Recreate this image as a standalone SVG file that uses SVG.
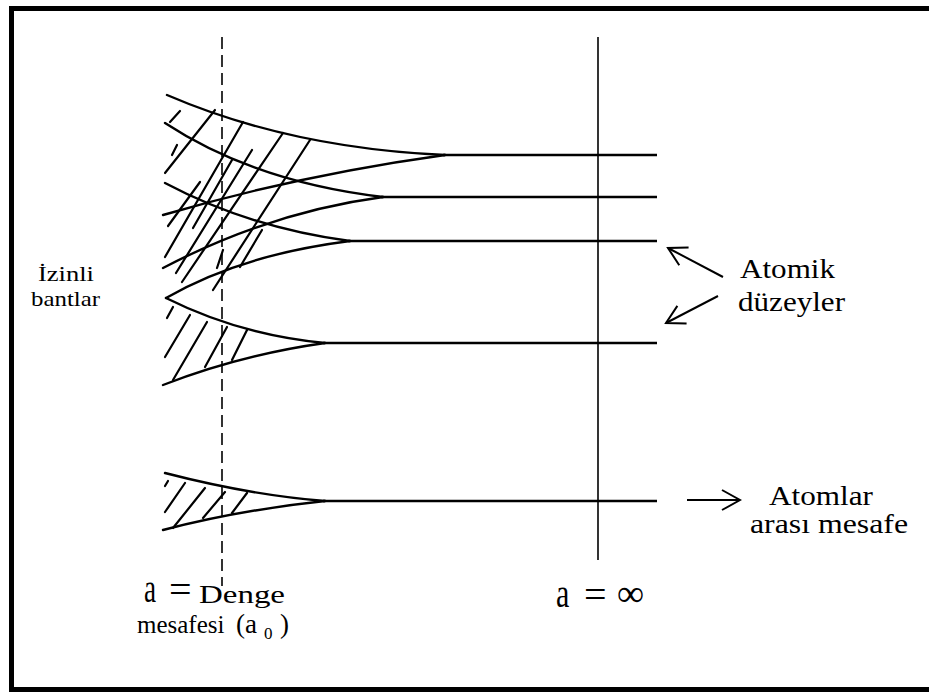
<svg xmlns="http://www.w3.org/2000/svg" width="929" height="695" viewBox="0 0 929 695">
<style>
.c{fill:none;stroke:#000;stroke-width:2.4;stroke-linecap:round}
.h{fill:none;stroke:#000;stroke-width:2.2;stroke-linecap:round}
.lv{fill:none;stroke:#000;stroke-width:2.4}
.t{font-family:"Liberation Serif","Times New Roman",serif;fill:#000}
.ar{fill:none;stroke:#000;stroke-width:2}
</style>
<defs>
<marker id="vh" markerUnits="userSpaceOnUse" markerWidth="24" markerHeight="26" viewBox="-22 -13 24 26" refX="0" refY="0" orient="auto">
<path d="M-18,-10 L0,0 L-18,10" fill="none" stroke="#000" stroke-width="2" stroke-linejoin="miter"/>
</marker>
</defs>
<rect x="0" y="0" width="929" height="695" fill="#fff"/>
<rect id="frame" x="11.5" y="8.5" width="930" height="681" fill="none" stroke="#000" stroke-width="5"/>

<g id="axes">
<line x1="222" y1="37" x2="222" y2="586" stroke="#000" stroke-width="1.6" stroke-dasharray="12 6"/>
<line x1="598" y1="37" x2="598" y2="560" stroke="#000" stroke-width="1.6"/>
</g>

<g id="level1">
<path class="c" d="M167,95 Q290,148 445,155"/>
<path class="c" d="M163,215 Q300,175 445,155"/>
<line class="lv" x1="443" y1="155" x2="657" y2="155"/>
</g>
<g id="level2">
<path class="c" d="M165,123 Q255,182 383,197"/>
<path class="c" d="M163,268 Q270,212 383,197"/>
<line class="lv" x1="381" y1="197" x2="657" y2="197"/>
</g>
<g id="level3">
<path class="c" d="M165,183 Q250,228 350,241"/>
<path class="c" d="M166,298 Q240,255 350,241"/>
<line class="lv" x1="348" y1="241" x2="657" y2="241"/>
</g>
<g id="level4">
<path class="c" d="M166,298 Q240,335 325,343"/>
<path class="c" d="M163,385 Q240,355 325,343"/>
<line class="lv" x1="323" y1="343" x2="657" y2="343"/>
</g>
<g id="level5">
<path class="c" d="M165,473 Q250,495 325,501"/>
<path class="c" d="M163,530 Q240,510 325,501"/>
<line class="lv" x1="323" y1="501" x2="657" y2="501"/>
</g>

<g id="hatch-upper">
<line class="h" x1="170" y1="122" x2="180" y2="111"/>
<line class="h" x1="172" y1="155" x2="177" y2="145"/>
<line class="h" x1="165" y1="173" x2="215" y2="110"/>
<line class="h" x1="165" y1="257" x2="243" y2="122"/>
<line class="h" x1="176" y1="273" x2="252" y2="150"/>
<line class="h" x1="182" y1="282" x2="283" y2="133"/>
<line class="h" x1="213" y1="290" x2="310" y2="140"/>
<line class="h" x1="168" y1="226" x2="200" y2="182"/>
<line class="h" x1="193" y1="228" x2="232" y2="160"/>
<line class="h" x1="240" y1="267" x2="262" y2="230"/>
<line class="h" x1="217" y1="268" x2="223" y2="250"/>
</g>
<g id="hatch-level4">
<line class="h" x1="167" y1="318" x2="173" y2="307"/>
<line class="h" x1="165" y1="357" x2="190" y2="315"/>
<line class="h" x1="173" y1="380" x2="207" y2="322"/>
<line class="h" x1="205" y1="367" x2="227" y2="327"/>
<line class="h" x1="232" y1="360" x2="247" y2="330"/>
</g>
<g id="hatch-level5">
<line class="h" x1="165" y1="486" x2="168" y2="481"/>
<line class="h" x1="165" y1="512" x2="185" y2="483"/>
<line class="h" x1="173" y1="528" x2="205" y2="488"/>
<line class="h" x1="203" y1="518" x2="225" y2="492"/>
<line class="h" x1="232" y1="513" x2="247" y2="493"/>
</g>

<g id="connectors">
<line class="ar" x1="723" y1="277" x2="668" y2="248" marker-end="url(#vh)"/>
<line class="ar" x1="718" y1="296" x2="666" y2="323" marker-end="url(#vh)"/>
<line class="ar" x1="687" y1="500" x2="740" y2="500" marker-end="url(#vh)"/>
</g>

<g id="label-izinli">
<text class="t" x="38" y="281" font-size="22" textLength="56" lengthAdjust="spacingAndGlyphs">İzinli</text>
<text class="t" x="31" y="306" font-size="22" textLength="69" lengthAdjust="spacingAndGlyphs">bantlar</text>
</g>
<g id="label-atomik">
<text class="t" x="740" y="278" font-size="28" textLength="95" lengthAdjust="spacingAndGlyphs">Atomik</text>
<text class="t" x="738" y="311" font-size="28" textLength="107" lengthAdjust="spacingAndGlyphs">düzeyler</text>
</g>
<g id="label-atomlar">
<text class="t" x="769" y="505" font-size="27" textLength="104" lengthAdjust="spacingAndGlyphs">Atomlar</text>
<text class="t" x="750" y="533" font-size="27" textLength="158" lengthAdjust="spacingAndGlyphs">arası mesafe</text>
</g>
<g id="label-denge">
<text class="t" font-size="40" transform="translate(144,602) scale(0.68,1)">a</text>
<text class="t" x="169" y="603" font-size="40">=</text>
<text class="t" x="199" y="603" font-size="25" textLength="86" lengthAdjust="spacingAndGlyphs">Denge</text>
<text class="t" y="633" font-size="25"><tspan x="137">mesafesi</tspan><tspan x="236" font-size="27">(a</tspan><tspan x="264" dy="6" font-size="17">0</tspan><tspan x="280" dy="-6" font-size="27">)</tspan></text>
</g>
<g id="label-inf">
<text class="t" font-size="40" transform="translate(556,607) scale(0.75,1)">a</text>
<text class="t" x="584" y="608" font-size="40">=</text>
<text class="t" x="617" y="606" font-size="38">∞</text>
</g>
</svg>
